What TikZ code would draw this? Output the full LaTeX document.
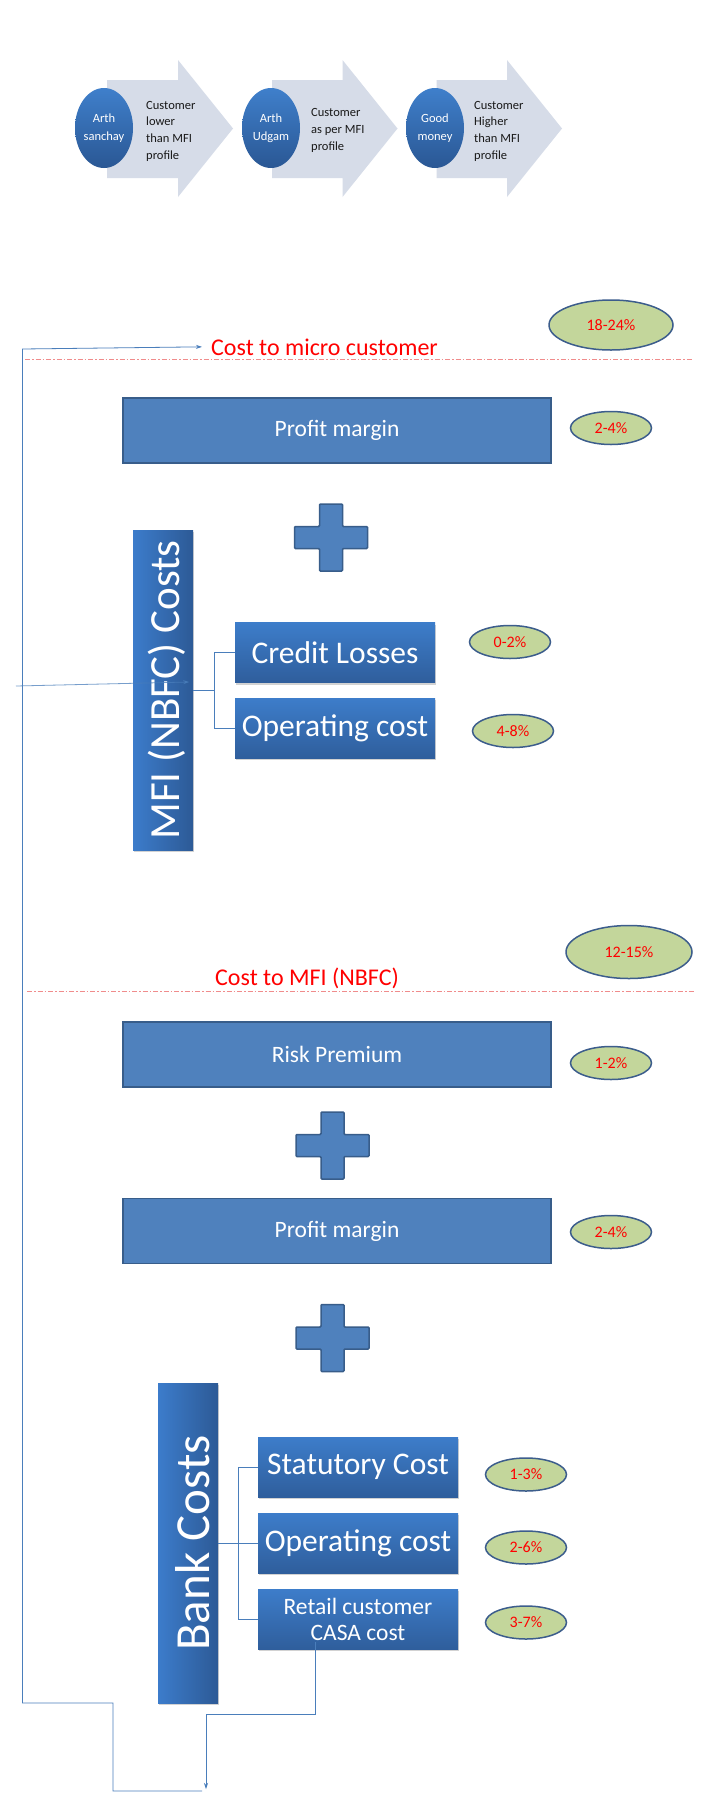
\documentclass[tikz,border=0pt]{standalone}
\usepackage{fontspec}
\setmainfont{Carlito}
\usetikzlibrary{shapes.geometric,arrows.meta,shadows}
\definecolor{boxblue}{HTML}{4F81BD}
\definecolor{boxedge}{HTML}{385D8A}
\definecolor{gtop}{HTML}{3D7DCA}
\definecolor{gbot}{HTML}{2F5E9C}
\definecolor{gleft}{HTML}{3C7CCB}
\definecolor{gright}{HTML}{2D5A96}
\definecolor{ellfill}{HTML}{C3D69B}
\definecolor{elledge}{HTML}{3C5D8C}
\definecolor{linkblue}{HTML}{4A7EBB}
\definecolor{dashred}{HTML}{F08C8C}
\definecolor{arrowfill}{HTML}{D6DCE8}
\definecolor{circtop}{HTML}{3F7FCB}
\definecolor{circbot}{HTML}{2A5794}
\tikzset{
  flatbox/.style={draw=boxedge, line width=1.5pt, fill=boxblue, text=white,
    font=\fontsize{23.5}{28}\selectfont, minimum width=428pt, minimum height=65pt, inner sep=0pt},
  gradbox/.style={top color=gtop, bottom color=gbot, text=white,
    drop shadow={shadow xshift=1pt, shadow yshift=-2pt, opacity=0.35, fill=black!50},
    minimum width=200pt, minimum height=60pt, inner sep=0pt, font=\fontsize{31.5}{36}\selectfont},
  vbox/.style={left color=gleft, right color=gright,
    drop shadow={shadow xshift=1pt, shadow yshift=-2pt, opacity=0.35, fill=black!50},
    minimum width=60pt, minimum height=320pt, inner sep=0pt},
  pct/.style={ellipse, draw=elledge, line width=1.5pt, fill=ellfill, text=red,
    font=\fontsize{16}{19}\selectfont, minimum width=81pt, minimum height=33pt, inner sep=0pt},
  bigpct/.style={pct, minimum width=124pt, minimum height=50pt},
  redlabel/.style={text=red, font=\fontsize{24}{28}\selectfont, inner sep=0pt},
  link/.style={draw=linkblue, line width=0.8pt},
  sepline/.style={draw=dashred, line width=1pt, dash pattern=on 5pt off 2pt on 1.5pt off 2pt},
  circ/.style={ellipse, minimum width=58pt, minimum height=80pt, top color=circtop, bottom color=circbot,
    inner sep=0pt, text=white, align=center, font=\fontsize{12.5}{18}\selectfont},
  sidetext/.style={anchor=west, align=left, font=\fontsize{12.5}{16.7}\selectfont, text=black!90, inner sep=0pt},
  plussign/.pic={\draw[boxedge, line width=1.5pt, fill=boxblue, rounded corners=1pt]
    (-11.5,-33.5) -- (11.5,-33.5) -- (11.5,-11) -- (36.5,-11) -- (36.5,11) -- (11.5,11) -- (11.5,33.5)
    -- (-11.5,33.5) -- (-11.5,11) -- (-36.5,11) -- (-36.5,-11) -- (-11.5,-11) -- cycle;},
  tip/.style={-{Stealth[length=6pt,width=4pt]}}
}
\begin{document}
\begin{tikzpicture}[x=1pt,y=-1pt]
\useasboundingbox (0,0) rectangle (715,1807);
\fill[white] (0,0) rectangle (715,1807);

% top chevrons
\fill[arrowfill] (107,80) -- (178,80) -- (178,60) -- (233,128.5) -- (178,197) -- (178,178) -- (107,178) -- cycle;
\fill[arrowfill] (272,80) -- (342.5,80) -- (342.5,60) -- (397.5,128.5) -- (342.5,197) -- (342.5,178) -- (272,178) -- cycle;
\fill[arrowfill] (436.5,80) -- (507,80) -- (507,60) -- (562,128.5) -- (507,197) -- (507,178) -- (436.5,178) -- cycle;
\node[circ] (c1) at (104,128) {Arth\\sanchay};
\node[circ] (c2) at (271,128) {Arth\\Udgam};
\node[circ] (c3) at (435,128) {Good\\money};
\node[sidetext] (t1) at (146,131) {Customer\\lower\\than MFI\\profile};
\node[sidetext] (t2) at (311,130.5) {Customer\\as per MFI\\profile};
\node[sidetext] (t3) at (474,131) {Customer\\Higher\\than MFI\\profile};

% first section
\node[bigpct] (e1) at (611,325) {18-24\%};
\node[redlabel, anchor=base west] (cm) at (211,355) {Cost to micro customer};
\draw[sepline] (25,359) -- (693,359);
\node[flatbox] (pm1) at (337,430.5) {Profit margin};
\node[pct] (e2) at (611,428) {2-4\%};
\pic at (331,537.5) {plussign};
\node[vbox] (mfi) at (163,690) {};
\node[rotate=90, text=white, font=\fontsize{43}{50}\selectfont, inner sep=0pt] (mfitext) at ([xshift=4pt]mfi.center) {MFI (NBFC) Costs};
\node[gradbox] (credit) at (335,652.5) {Credit Losses};
\node[gradbox] (op1) at (335,728) {Operating cost};
\node[pct] (e3) at (510,642) {0-2\%};
\node[pct] (e4) at (513,731) {4-8\%};

% second section
\node[bigpct, minimum width=126pt, minimum height=53pt] (e5) at (629,952) {12-15\%};
\node[redlabel, anchor=base west] (cn) at (215,985) {Cost to MFI (NBFC)};
\draw[sepline] (27,991) -- (695,991);
\node[flatbox] (rp) at (337,1054.5) {Risk Premium};
\node[pct] (e6) at (611,1063) {1-2\%};
\pic at (332.5,1145.5) {plussign};
\node[flatbox] (pm2) at (337,1231) {Profit margin};
\node[pct] (e7) at (611,1232) {2-4\%};
\pic at (332.5,1338) {plussign};
\node[vbox] (bank) at (188,1543) {};
\node[rotate=90, text=white, font=\fontsize{49}{56}\selectfont, inner sep=0pt] (banktext) at ([xshift=5pt]bank.center) {Bank Costs};
\node[gradbox] (stat) at (358,1467) {Statutory Cost};
\node[gradbox] (op2) at (358,1543) {Operating cost};
\node[gradbox, align=center, font=\fontsize{23.5}{26}\selectfont] (casa) at (358,1619) {Retail customer\\CASA cost};
\node[pct] (e8) at (526,1474.5) {1-3\%};
\node[pct] (e9) at (526,1547.5) {2-6\%};
\node[pct] (e10) at (526,1622.5) {3-7\%};

% connectors
\draw[link] (mfi.east) -- ++(21,0) coordinate (mj) |- (credit.west);
\draw[link] (mj) |- (op1.west);
\draw[link] (bank.east) -- ++(20.5,0) coordinate (bj) |- (stat.west);
\draw[link] (bj) |- (op2.west);
\draw[link] (bj) |- (casa.west);

\coordinate (casastart) at ([xshift=-43pt,yshift=7pt]casa.south);
\coordinate (casaend) at (206,1789);
\draw[link, tip] (casastart) -- (315,1714) -- (206,1714) -- (casaend);

\coordinate (loopstart) at (202,1791);
\draw[link, tip] (loopstart) -- (113,1791) -- (113,1703) -- (22.5,1703) -- (22.5,349) -- ([xshift=-9pt]cm.west);

\coordinate (mfiin) at (16,686);
\draw[link, tip, opacity=0.75] (mfiin) -- ([xshift=-4pt,yshift=8pt]mfi.east);
\end{tikzpicture}
\end{document}
